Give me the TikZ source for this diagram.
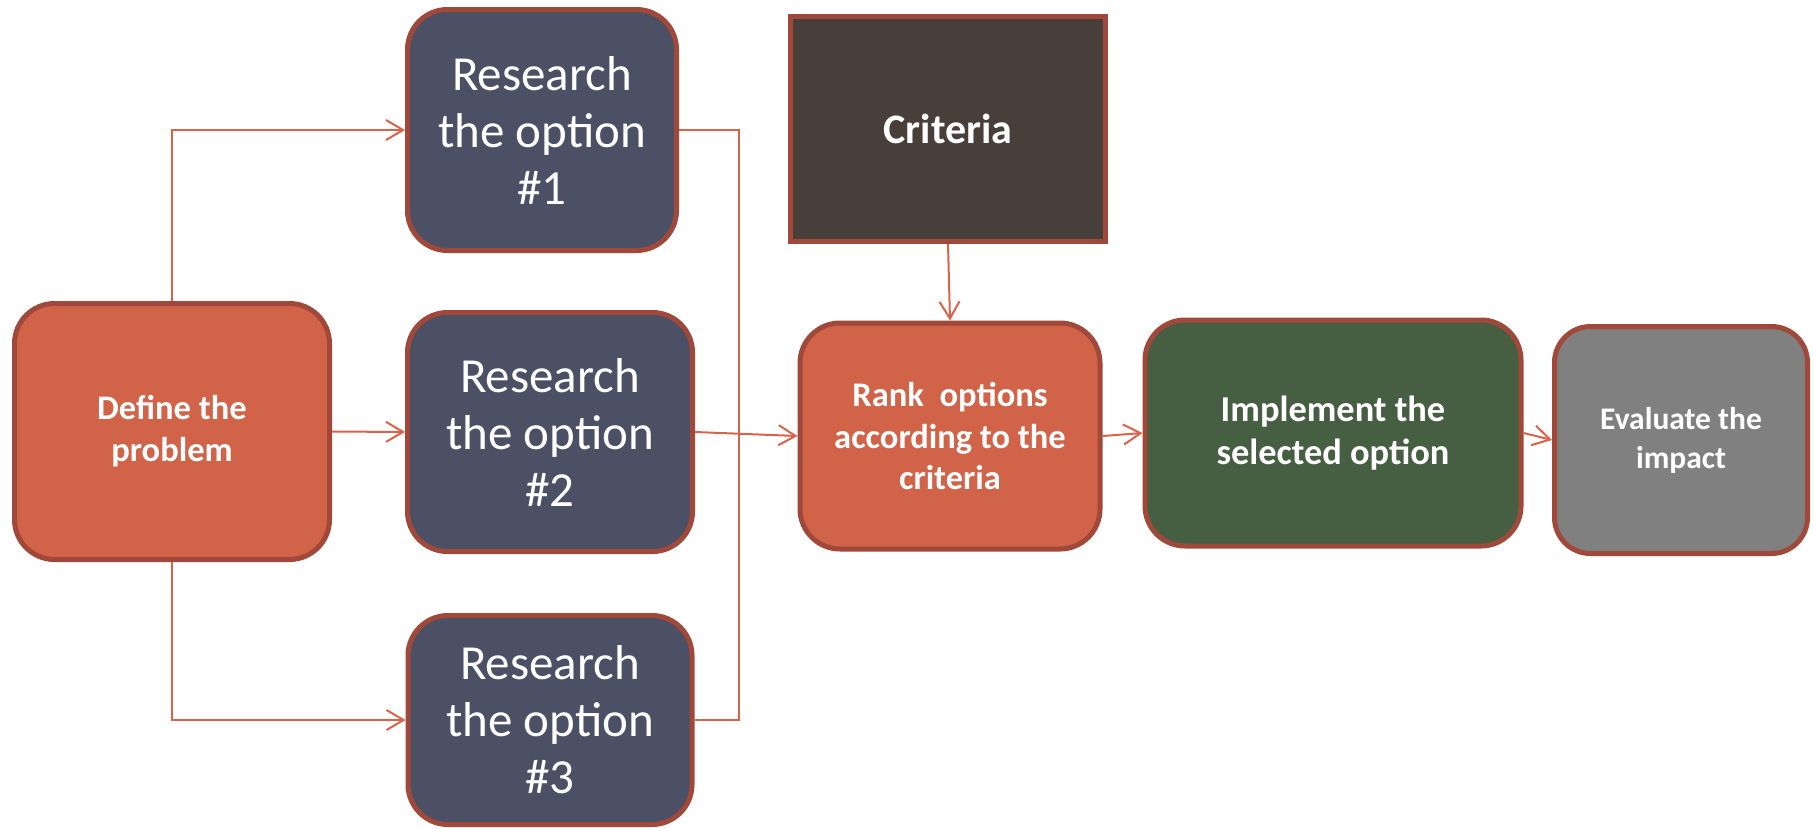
\documentclass[tikz,border=0pt]{standalone}
\usepackage{fontspec}
\setmainfont{Carlito}
\usetikzlibrary{arrows.meta}
\definecolor{orangebox}{HTML}{D16349}
\definecolor{bluebox}{HTML}{4B5065}
\definecolor{brownbox}{HTML}{483F3A}
\definecolor{greenbox}{HTML}{465E42}
\definecolor{greybox}{HTML}{808080}
\definecolor{edge}{HTML}{A0483A}
\definecolor{conn}{HTML}{D9634A}
\tikzset{
  box/.style={draw=edge, line width=5pt, rectangle, rounded corners=40pt, text=white, align=center, inner sep=0pt},
  resbox/.style={box, fill=bluebox, font=\fontsize{49}{57}\selectfont},
  link/.style={draw=conn, line width=2pt, -{Straight Barb[length=17pt,width=20pt,line width=2pt]}},
  plain/.style={draw=conn, line width=2pt},
}
\begin{document}
\begin{tikzpicture}[x=1pt,y=-1pt]
\useasboundingbox (0,0) rectangle (1814,828);
\node[box, fill=orangebox, minimum width=315pt, minimum height=256pt, font=\bfseries\fontsize{34.5}{42}\selectfont] (define) at (172,431.5) {Define the\\problem};
\node[resbox, minimum width=269pt, minimum height=241pt] (r1) at (542,130) {Research\\the option\\\#1};
\node[resbox, minimum width=285pt, minimum height=239pt] (r2) at (550,432) {Research\\the option\\\#2};
\node[resbox, minimum width=284pt, minimum height=209pt] (r3) at (550,720) {Research\\the option\\\#3};
\node[box, rounded corners=0pt, fill=brownbox, minimum width=315pt, minimum height=225pt, font=\bfseries\fontsize{42}{48}\selectfont] (crit) at (948,129) {Criteria};
\node[box, fill=orangebox, minimum width=300pt, minimum height=226pt, font=\bfseries\fontsize{34.5}{41.6}\selectfont] (rank) at (950,436) {Rank\ \ options\\according to the\\criteria};
\node[box, fill=greenbox, minimum width=376pt, minimum height=226pt, font=\bfseries\fontsize{36.4}{43}\selectfont] (impl) at (1333,433) {Implement the\\selected option};
\node[box, rounded corners=36pt, fill=greybox, minimum width=253pt, minimum height=227pt, font=\bfseries\fontsize{31.5}{39}\selectfont] (eval) at (1681,440) {Evaluate the\\impact};
\coordinate (bus) at (739,0);
\draw[link] (define.north) |- (r1.west);
\draw[link] (define.east) -- (r2.west);
\draw[link] (define.south) |- (r3.west);
\draw[plain] (r1.east) -- (r1.east -| bus) -- (r3.east -| bus) -- (r3.east);
\draw[link] (r2.east) -- (rank.west);
\draw[link] (crit.south) -- (rank.north);
\draw[link] (rank.east) -- (impl.west);
\draw[link] (impl.east) -- (eval.west);
\end{tikzpicture}
\end{document}
